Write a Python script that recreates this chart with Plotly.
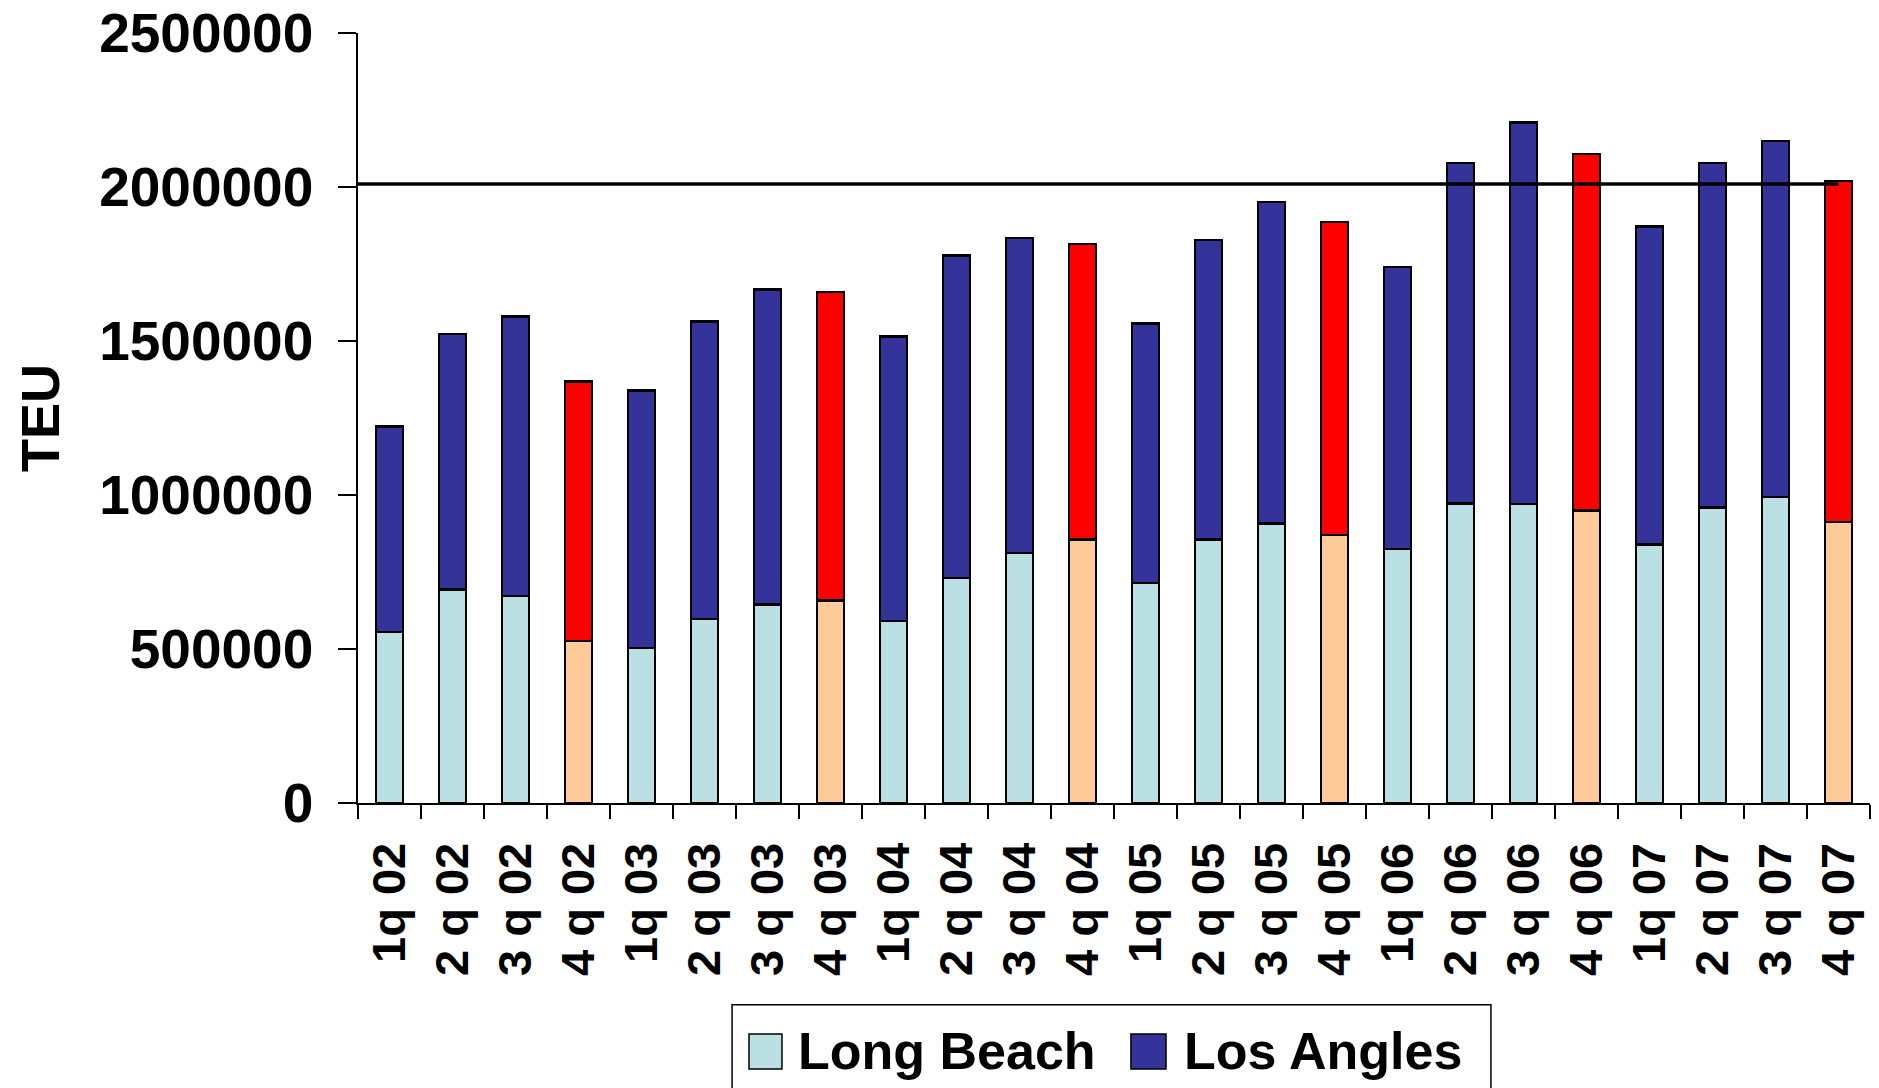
import plotly.graph_objects as go

# ---- data (TEU per quarter) ----
quarters = ["1q 02", "2 q 02", "3 q 02", "4 q 02",
            "1q 03", "2 q 03", "3 q 03", "4 q 03",
            "1q 04", "2 q 04", "3 q 04", "4 q 04",
            "1q 05", "2 q 05", "3 q 05", "4 q 05",
            "1q 06", "2 q 06", "3 q 06", "4 q 06",
            "1q 07", "2 q 07", "3 q 07", "4 q 07"]

long_beach = [556000, 694000, 672000, 526000,
              504000, 598000, 644000, 657000,
              591000, 731000, 811000, 855000,
              715000, 855000, 907000, 870000,
              824000, 972000, 971000, 950000,
              840000, 959000, 994000, 913000]

los_angles = [666000, 828000, 907000, 842000,
              835000, 966000, 1023000, 1002000,
              923000, 1046000, 1023000, 960000,
              842000, 973000, 1045000, 1016000,
              916000, 1106000, 1238000, 1157000,
              1032000, 1119000, 1155000, 1106000]

reference_level = 2010000
y_ticks = [0, 500000, 1000000, 1500000, 2000000, 2500000]

# ---- styles ----
LB_COLOR, LB_Q4 = "#BBE0E3", "#FFCC99"
LA_COLOR, LA_Q4 = "#333399", "#FF0000"
FONT = "Liberation Sans, Arial, sans-serif"

lb_colors = [LB_Q4 if q.startswith("4") else LB_COLOR for q in quarters]
la_colors = [LA_Q4 if q.startswith("4") else LA_COLOR for q in quarters]

fig = go.Figure()
fig.add_trace(go.Bar(x=quarters, y=long_beach, name="Long Beach",
                     marker=dict(color=lb_colors, line=dict(color="black", width=2.5)),
                     showlegend=False))
fig.add_trace(go.Bar(x=quarters, y=los_angles, name="Los Angles",
                     marker=dict(color=la_colors, line=dict(color="black", width=2.5)),
                     showlegend=False))

# reference line
fig.add_shape(type="line", xref="x", yref="y", x0=-0.5, x1=len(quarters) - 1,
              y0=reference_level, y1=reference_level,
              line=dict(color="black", width=3.5), layer="above")

# custom legend (box, swatches, labels)
fig.add_shape(type="rect", xref="paper", yref="paper",
              x0=0.2474, x1=0.7493, y0=-0.262, y1=-0.40,
              line=dict(color="black", width=1.5), fillcolor="white", layer="above")
fig.add_shape(type="rect", xref="paper", yref="paper",
              x0=0.2586, x1=0.2804, y0=-0.300, y1=-0.3455,
              line=dict(color="black", width=1.5), fillcolor=LB_COLOR, layer="above")
fig.add_shape(type="rect", xref="paper", yref="paper",
              x0=0.5112, x1=0.5344, y0=-0.300, y1=-0.3455,
              line=dict(color="black", width=1.5), fillcolor=LA_COLOR, layer="above")
fig.add_annotation(xref="paper", yref="paper", x=0.2895, y=-0.322,
                   xanchor="left", yanchor="middle", showarrow=False,
                   text="Long Beach", font=dict(family=FONT, size=52, color="black", weight="bold"))
fig.add_annotation(xref="paper", yref="paper", x=0.5450, y=-0.322,
                   xanchor="left", yanchor="middle", showarrow=False,
                   text="Los Angles", font=dict(family=FONT, size=52, color="black", weight="bold"))

fig.update_layout(
    width=1879, height=1088,
    barmode="stack", bargap=0.57,
    plot_bgcolor="white", paper_bgcolor="white",
    margin=dict(l=358, r=9, t=33, b=285),
    font=dict(family=FONT, color="black", weight="bold"),
    showlegend=False,
)
fig.update_xaxes(
    type="category", tickangle=-90, tickson="boundaries", automargin=False,
    ticks="outside", ticklen=14, tickwidth=1.5, tickcolor="black",
    showline=True, linecolor="black", linewidth=2,
    showgrid=False, zeroline=False, ticklabelstandoff=19, ticklabeloverflow="allow",
    tickfont=dict(family=FONT, size=47, color="black", weight="bold"),
    range=[-0.5, len(quarters) - 0.5],
)
fig.update_yaxes(
    range=[0, 2500000], tickmode="array", tickvals=y_ticks, automargin=False,
    ticktext=[str(v) for v in y_ticks], ticklabelstandoff=14, ticklabeloverflow="allow",
    ticks="outside", ticklen=18, tickwidth=1.5, tickcolor="black",
    showline=True, linecolor="black", linewidth=1.5,
    showgrid=False, zeroline=False,
    tickfont=dict(family=FONT, size=55, color="black", weight="bold"),
    title=dict(text="TEU", font=dict(family=FONT, size=54, color="black", weight="bold"),
               standoff=22),
)

fig.write_html("out.html", config={"displayModeBar": False},
               post_script="document.body.style.margin='0';document.body.style.overflow='hidden';")
